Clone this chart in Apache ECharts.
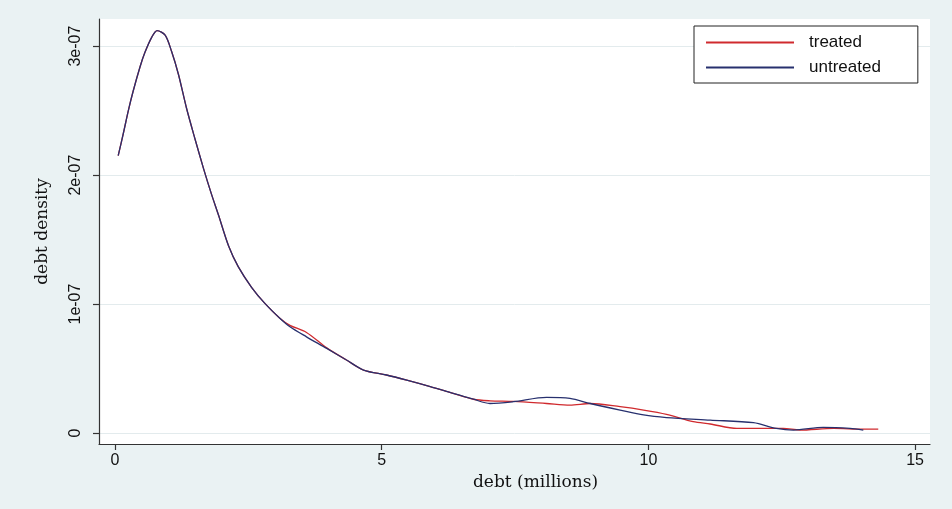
<!DOCTYPE html>
<html>
<head>
<meta charset="utf-8">
<title>debt density</title>
<script src="https://cdn.jsdelivr.net/npm/echarts@6/dist/echarts.min.js"></script>
<style>
  html, body { margin: 0; padding: 0; background: #eaf2f3; }
  #chart { width: 952px; height: 509px; }
</style>
</head>
<body>
<div id="chart"></div>
<script>
// Kernel density estimates of debt, in millions, for the two groups.
// Density values are stored in units of 1e-07.
const DENSITY_UNIT = 1e-7;

const treatedDebt = [0.06, 0.16, 0.25, 0.34, 0.47, 0.56, 0.69, 0.79, 0.94, 1.06, 1.19, 1.34, 1.50, 1.66, 1.81, 1.94,
  2.13, 2.31, 2.56, 2.81, 3.09, 3.28, 3.59, 3.97, 4.34, 4.66, 5.09, 5.47, 5.91, 6.34, 6.72, 7.03, 7.47, 8.09,
  8.53, 8.91, 9.47, 9.91, 10.34, 10.84, 11.16, 11.66, 12.09, 12.53, 12.84, 13.47, 14.03, 14.31];
const treatedDensity = [2.15, 2.33, 2.50, 2.65, 2.84, 2.95, 3.07, 3.12, 3.085, 2.96, 2.78, 2.52, 2.28, 2.05, 1.85, 1.69,
  1.45, 1.29, 1.13, 1.005, 0.89, 0.835, 0.78, 0.66, 0.566, 0.488, 0.45, 0.41, 0.36, 0.307, 0.262, 0.25, 0.245, 0.229,
  0.217, 0.229, 0.204, 0.178, 0.145, 0.088, 0.07, 0.036, 0.036, 0.036, 0.023, 0.036, 0.03, 0.031];

const untreatedDebt = [0.06, 0.16, 0.25, 0.34, 0.47, 0.56, 0.69, 0.79, 0.94, 1.06, 1.19, 1.34, 1.50, 1.66, 1.81, 1.94,
  2.13, 2.31, 2.56, 2.81, 3.09, 3.28, 3.59, 3.97, 4.34, 4.66, 5.09, 5.47, 5.91, 6.34, 6.72, 7.03, 7.47, 8.09,
  8.53, 8.91, 9.47, 9.91, 10.34, 11.16, 11.97, 12.40, 12.72, 13.28, 13.78, 14.03];
const untreatedDensity = [2.15, 2.33, 2.50, 2.65, 2.84, 2.95, 3.07, 3.12, 3.085, 2.96, 2.78, 2.52, 2.28, 2.05, 1.85, 1.69,
  1.45, 1.29, 1.13, 1.005, 0.89, 0.824, 0.746, 0.656, 0.566, 0.488, 0.45, 0.41, 0.36, 0.307, 0.262, 0.229, 0.243, 0.276,
  0.268, 0.229, 0.178, 0.14, 0.12, 0.10, 0.08, 0.036, 0.023, 0.044, 0.036, 0.023];

const xTickValues = [0, 5, 10, 15];
const yTickValues = [0, 1e-7, 2e-7, 3e-7];
const yTickLabels = ['0', '1e-07', '2e-07', '3e-07'];

const seriesNames = ['treated', 'untreated'];

function pairs(xs, ys) {
  return xs.map((x, i) => [x, ys[i] * DENSITY_UNIT]);
}

const chart = echarts.init(document.getElementById('chart'), null, { renderer: 'canvas' });

const sansFont = '"Liberation Sans", Arial, sans-serif';
const serifFont = '"DejaVu Serif", serif';

chart.setOption({
  backgroundColor: '#eaf2f3',
  animation: false,
  grid: {
    left: 99, right: 22, top: 19, bottom: 65,
    show: true, backgroundColor: '#ffffff', borderWidth: 0
  },
  legend: {
    orient: 'vertical',
    left: 694, top: 26,
    data: seriesNames,
    backgroundColor: '#ffffff',
    borderColor: '#222222',
    borderWidth: 1,
    borderRadius: 0,
    padding: [8, 37, 7, 11],
    itemGap: 8,
    itemWidth: 88,
    itemHeight: 14,
    itemStyle: { opacity: 0 },
    textStyle: { fontFamily: sansFont, fontSize: 17, color: '#111111', padding: [0, 0, 0, 10] }
  },
  xAxis: {
    type: 'value',
    min: -0.3, max: 15.28,
    name: 'debt (millions)',
    nameLocation: 'middle',
    nameGap: 20,
    nameTextStyle: { fontFamily: serifFont, fontSize: 17, color: '#111111', padding: [0, 0, 0, 42] },
    axisLine: { show: true, onZero: false, lineStyle: { color: '#333333', width: 1.2 } },
    axisTick: { show: true, length: 6, customValues: xTickValues, lineStyle: { color: '#333333', width: 1.2 } },
    axisLabel: {
      customValues: xTickValues,
      fontFamily: sansFont, fontSize: 16, color: '#111111', margin: 9,
      formatter: v => String(Math.round(v))
    },
    splitLine: { show: false }
  },
  yAxis: {
    type: 'value',
    min: -0.085e-7, max: 3.21e-7,
    name: 'debt density',
    nameLocation: 'middle',
    nameRotate: 90,
    nameGap: 48,
    nameTextStyle: { fontFamily: serifFont, fontSize: 17, color: '#111111' },
    axisLine: { show: true, onZero: false, lineStyle: { color: '#333333', width: 1.2 } },
    axisTick: { show: true, length: 6, customValues: yTickValues, lineStyle: { color: '#333333', width: 1.2 } },
    axisLabel: {
      customValues: yTickValues,
      rotate: 90,
      fontFamily: sansFont, fontSize: 16, color: '#111111', margin: 15,
      formatter: v => {
        const i = yTickValues.findIndex(t => Math.abs(t - v) < 1e-12);
        return i >= 0 ? yTickLabels[i] : '';
      }
    },
    splitLine: { show: true, lineStyle: { color: '#e3ebed', width: 1 } }
  },
  series: [
    {
      name: seriesNames[0],
      type: 'line',
      data: pairs(treatedDebt, treatedDensity),
      symbol: 'none',
      smooth: 0.3,
      lineStyle: { color: '#d02a2e', width: 1.3 },
      itemStyle: { color: '#d02a2e' }
    },
    {
      name: seriesNames[1],
      type: 'line',
      data: pairs(untreatedDebt, untreatedDensity),
      symbol: 'none',
      smooth: 0.3,
      lineStyle: { color: '#27306e', width: 1.3 },
      itemStyle: { color: '#27306e' }
    }
  ]
});
</script>
</body>
</html>
